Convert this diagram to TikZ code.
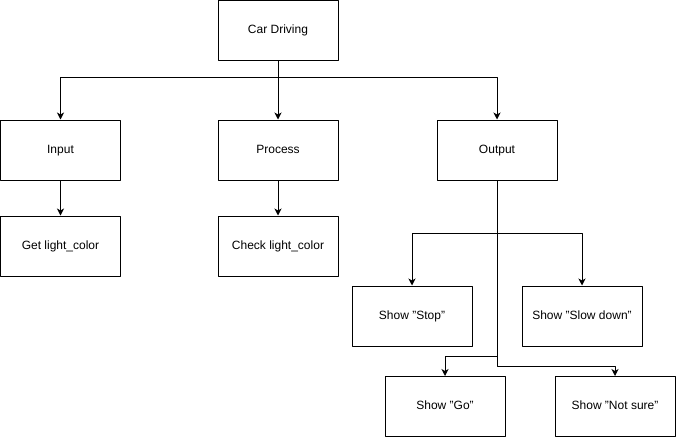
\documentclass[tikz,border=0pt]{standalone}
\usepackage{fontspec}
\setmainfont{Liberation Sans}
\usetikzlibrary{arrows.meta}
\newcommand\dq{\symbol{34}}
\tikzset{
  box/.style={draw,minimum width=120pt,minimum height=60pt,inner sep=0pt,
    text height=9pt,text depth=3pt,font=\fontsize{12}{14}\selectfont},
  arr/.style={-{Stealth[length=7pt,width=7pt,inset=2pt]}}
}
\begin{document}
\begin{tikzpicture}[x=1pt,y=-1pt,line width=1pt,line join=round]
  \useasboundingbox (0,0) rectangle (676,437);
  \node[box] (car) at (278,30.5) {Car Driving};
  \node[box] (in) at (60.5,150) {Input};
  \node[box] (proc) at (278,150) {Process};
  \node[box] (out) at (497,150) {Output};
  \node[box] (get) at (60.5,246) {Get light\_color};
  \node[box] (chk) at (278,246) {Check light\_color};
  \node[box] (stop) at (412,316) {Show \dq Stop\dq};
  \node[box] (slow) at (582,316) {Show \dq Slow down\dq};
  \node[box] (go) at (445,406.5) {Show \dq Go\dq};
  \node[box] (unsure) at (615,406.5) {Show \dq Not sure\dq};
  \draw[arr] (car.south) -- ++(0,16) -| (in.north);
  \draw[arr] (car.south) -- (proc.north);
  \draw[arr] (car.south) -- ++(0,16) -| (out.north);
  \draw[arr] (in) -- (get);
  \draw[arr] (proc) -- (chk);
  \draw[arr] (out.south) -- ++(0,53) -| (stop.north);
  \draw[arr] (out.south) -- ++(0,53) -| (slow.north);
  \draw[arr] (out.south) -- ++(0,176) -| (go.north);
  \draw[arr] (out.south) -- ++(0,186) -| (unsure.north);
\end{tikzpicture}
\end{document}
